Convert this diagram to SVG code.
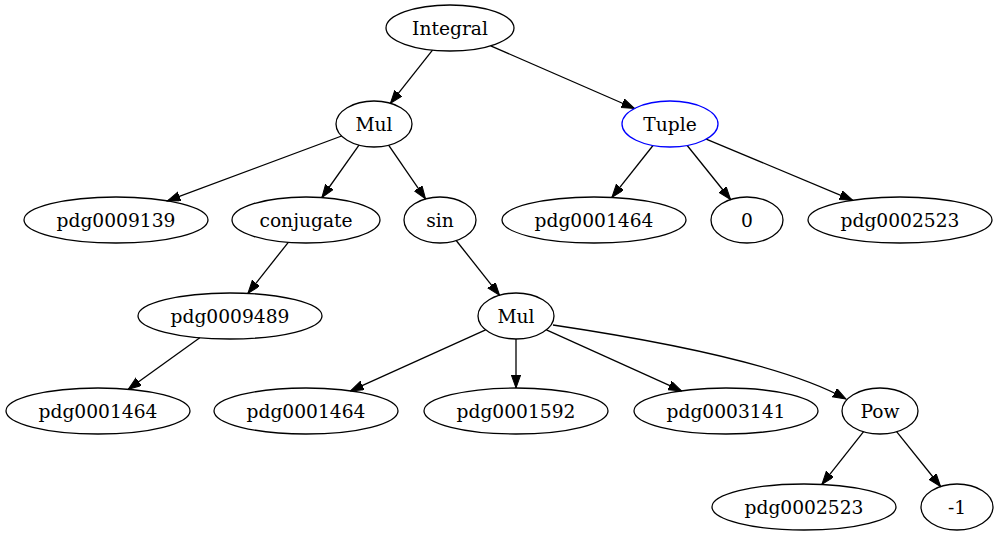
<svg xmlns="http://www.w3.org/2000/svg" width="999" height="539" viewBox="0 0 999 539">
<style>
.n ellipse{fill:none;stroke:#000;stroke-width:1.3}
.n text{font-family:"DejaVu Serif",serif;font-size:18.67px;text-anchor:middle;fill:#000}
.e path,.e line{fill:none;stroke:#000;stroke-width:1.3;marker-end:url(#ah)}
</style>
<defs>
<marker id="ah" markerUnits="userSpaceOnUse" markerWidth="14" markerHeight="10" refX="13" refY="4.65" orient="auto" viewBox="0 0 14 10">
<path d="M0,0 L13,4.65 L0,9.3 z" fill="#000" stroke="#000" stroke-width="1"/>
</marker>
</defs>
<rect width="999" height="539" fill="#fff"/>
<g id="edges" class="e">
<line x1="432.5" y1="50.1" x2="390.4" y2="103.3"/>
<line x1="490.7" y1="45.8" x2="634.5" y2="108.5"/>
<line x1="341.6" y1="136" x2="167.3" y2="200.9"/>
<line x1="359" y1="145.1" x2="321.9" y2="197.5"/>
<line x1="388.6" y1="145.2" x2="425.5" y2="198.9"/>
<line x1="653" y1="145.5" x2="611.9" y2="197.4"/>
<line x1="687.2" y1="145.5" x2="730.6" y2="199.5"/>
<line x1="706.2" y1="139.1" x2="852.7" y2="200.3"/>
<line x1="288.3" y1="242.3" x2="247.9" y2="293.4"/>
<line x1="456.2" y1="240.5" x2="499.6" y2="295.3"/>
<line x1="199.8" y1="337.7" x2="128.2" y2="389.3"/>
<line x1="485.6" y1="329.8" x2="350.5" y2="390.9"/>
<line x1="516" y1="339" x2="516" y2="388"/>
<line x1="546.4" y1="329.8" x2="681.5" y2="390.9"/>
<path d="M553,325 C640,338 780,362 846,399"/>
<line x1="863.6" y1="431.7" x2="821.9" y2="484.4"/>
<line x1="896.6" y1="431.7" x2="940.6" y2="486.5"/>
</g>
<g id="n_integral" class="n"><ellipse cx="450" cy="28" rx="64" ry="23"/><text x="450" y="34.5">Integral</text></g>
<g id="n_mul1" class="n"><ellipse cx="374" cy="124" rx="38" ry="23"/><text x="374" y="130.5">Mul</text></g>
<g id="n_tuple" class="n"><ellipse cx="670" cy="124" rx="48" ry="23" style="stroke:#00f"/><text x="670" y="130.5">Tuple</text></g>
<g id="n_pdg0009139" class="n"><ellipse cx="116" cy="220" rx="92" ry="23"/><text x="116" y="226.5">pdg0009139</text></g>
<g id="n_conjugate" class="n"><ellipse cx="306" cy="220" rx="74" ry="23"/><text x="306" y="226.5">conjugate</text></g>
<g id="n_sin" class="n"><ellipse cx="440" cy="220" rx="36" ry="23"/><text x="440" y="226.5">sin</text></g>
<g id="n_pdg0001464_t" class="n"><ellipse cx="594" cy="220" rx="92" ry="23"/><text x="594" y="226.5">pdg0001464</text></g>
<g id="n_zero" class="n"><ellipse cx="747" cy="220" rx="36" ry="23"/><text x="747" y="226.5">0</text></g>
<g id="n_pdg0002523_t" class="n"><ellipse cx="900" cy="220" rx="92" ry="23"/><text x="900" y="226.5">pdg0002523</text></g>
<g id="n_pdg0009489" class="n"><ellipse cx="230" cy="316" rx="92" ry="23"/><text x="230" y="322.5">pdg0009489</text></g>
<g id="n_mul2" class="n"><ellipse cx="516" cy="316" rx="38" ry="23"/><text x="516" y="322.5">Mul</text></g>
<g id="n_pdg0001464_a" class="n"><ellipse cx="98" cy="411" rx="92" ry="23"/><text x="98" y="417.5">pdg0001464</text></g>
<g id="n_pdg0001464_b" class="n"><ellipse cx="306" cy="411" rx="92" ry="23"/><text x="306" y="417.5">pdg0001464</text></g>
<g id="n_pdg0001592" class="n"><ellipse cx="516" cy="411" rx="92" ry="23"/><text x="516" y="417.5">pdg0001592</text></g>
<g id="n_pdg0003141" class="n"><ellipse cx="726" cy="411" rx="92" ry="23"/><text x="726" y="417.5">pdg0003141</text></g>
<g id="n_pow" class="n"><ellipse cx="880" cy="411" rx="38" ry="23"/><text x="880" y="417.5">Pow</text></g>
<g id="n_pdg0002523_p" class="n"><ellipse cx="804" cy="507" rx="92" ry="23"/><text x="804" y="513.5">pdg0002523</text></g>
<g id="n_minus1" class="n"><ellipse cx="957" cy="507" rx="36" ry="23"/><text x="957" y="513.5">-1</text></g>
</svg>
